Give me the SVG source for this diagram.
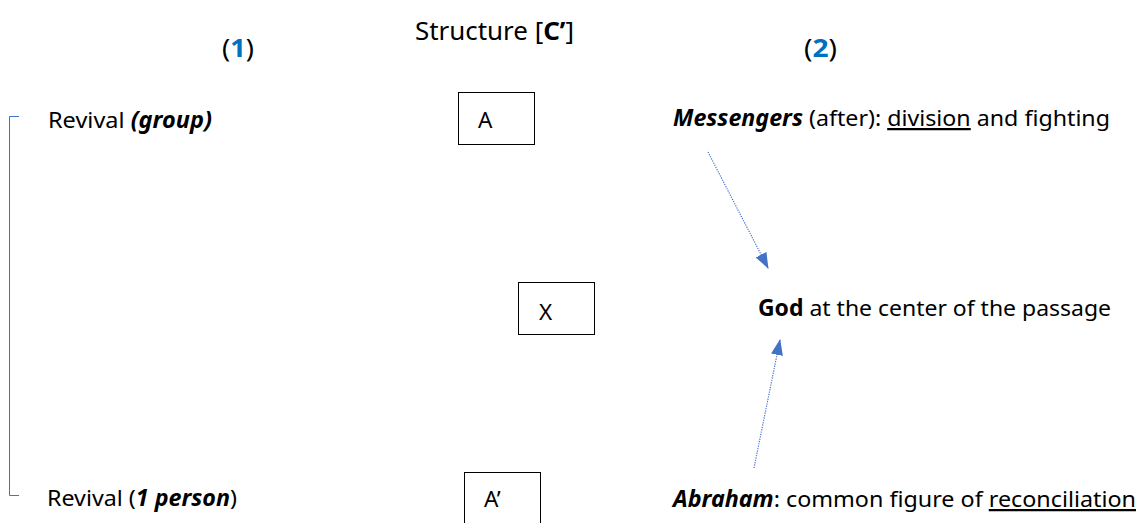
<svg xmlns="http://www.w3.org/2000/svg" width="1142" height="523" viewBox="0 0 1142 523">
  <defs>
    <marker id="arrow" viewBox="0 0 16 12" refX="15" refY="6" markerWidth="16" markerHeight="12" markerUnits="userSpaceOnUse" orient="auto">
      <path d="M0,0 L16,6 L0,12 Z" fill="#4472C4"/>
    </marker>
    <style>
      .t { font-family: "Noto Sans", "Open Sans", sans-serif; font-size: 22.5px; fill: #000; }
      .h { font-family: "Noto Sans", "Open Sans", sans-serif; font-size: 25px; fill: #000; }
      .box { fill: #fff; stroke: #000; stroke-width: 1; }
      .num { fill: #0070C0; font-weight: bold; }
      .b { font-weight: bold; }
      .bi { font-weight: bold; font-style: italic; }
      .u { text-decoration: underline; }
      .link { fill: none; stroke: #4472C4; stroke-width: 1.2; stroke-dasharray: 1.2 1.2; }
    </style>
  </defs>
  <rect width="1142" height="523" fill="#fff"/>

  <!-- column headings -->
  <g id="heading-1"><text class="h" x="222" y="57" textLength="32" lengthAdjust="spacingAndGlyphs">(<tspan class="num">1</tspan>)</text></g>
  <g id="heading-structure"><text class="h" x="415" y="40" textLength="159" lengthAdjust="spacingAndGlyphs">Structure [<tspan class="b">C’</tspan>]</text></g>
  <g id="heading-2"><text class="h" x="804" y="57" textLength="33" lengthAdjust="spacingAndGlyphs">(<tspan class="num">2</tspan>)</text></g>

  <!-- left column -->
  <g id="bracket"><path d="M19,116.5 H9.5 V495.5 H19" fill="none" stroke="#4472C4" stroke-width="1"/></g>
  <g id="revival-group"><text class="t" x="48" y="128" textLength="164" lengthAdjust="spacingAndGlyphs">Revival <tspan class="bi">(group)</tspan></text></g>
  <g id="revival-person"><text class="t" x="47" y="506" textLength="190" lengthAdjust="spacingAndGlyphs">Revival (<tspan class="bi">1 person</tspan>)</text></g>

  <!-- structure boxes -->
  <g id="box-a"><rect class="box" x="458.5" y="92.5" width="76" height="52"/><text class="t" x="478" y="128">A</text></g>
  <g id="box-x"><rect class="box" x="518.5" y="282.5" width="76" height="52"/><text class="t" x="539" y="320">X</text></g>
  <g id="box-a-prime"><rect class="box" x="464.5" y="472.5" width="76" height="60"/><text class="t" x="484" y="507">A’</text></g>

  <!-- right column -->
  <g id="messengers"><text class="t" x="673" y="126" textLength="437" lengthAdjust="spacingAndGlyphs"><tspan class="bi">Messengers</tspan> (after): <tspan class="u">division</tspan> and fighting</text></g>
  <g id="god"><text class="t" x="758" y="316" textLength="353" lengthAdjust="spacingAndGlyphs"><tspan class="b">God</tspan> at the center of the passage</text></g>
  <g id="abraham"><text class="t" x="673" y="507" textLength="463" lengthAdjust="spacingAndGlyphs"><tspan class="bi">Abraham</tspan>: common figure of <tspan class="u">reconciliation</tspan></text></g>

  <!-- connectors -->
  <g id="connectors">
    <line class="link" x1="708" y1="152" x2="768" y2="268" marker-end="url(#arrow)"/>
    <line class="link" x1="754" y1="468" x2="780" y2="340" marker-end="url(#arrow)"/>
  </g>
</svg>
